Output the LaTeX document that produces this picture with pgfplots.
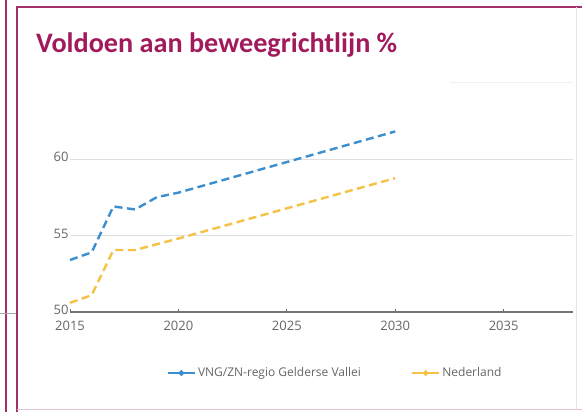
\documentclass[border=0pt]{standalone}
\usepackage{pgfplots}
\pgfplotsset{compat=1.18}
\usepackage{fontspec}
\setmainfont{Open Sans}
\newfontfamily\titlefont{Carlito}
\definecolor{framec}{HTML}{A3306A}
\definecolor{titlec}{HTML}{A11A5B}
\definecolor{blueL}{HTML}{3B8FCF}
\definecolor{goldL}{HTML}{F4C346}
\definecolor{tickc}{HTML}{666666}
\begin{document}
\begin{tikzpicture}[x=1pt,y=1pt]
\useasboundingbox (0,0) rectangle (582,412);
\fill[white] (0,0) rectangle (582,412);
% frames
\draw[framec, line width=1.5pt] (6,412) -- (6,0);
\draw[black!35, line width=0.8pt] (0,99) -- (17,99);
\draw[framec, line width=1.5pt] (17,0) -- (17,405) -- (582,405);
\draw[framec!30, line width=1.2pt] (17,2.5) -- (582,2.5);
\draw[framec!15, line width=1pt] (576,3) -- (576,405);
\draw[black!6, line width=1pt] (450,329) -- (573,329);
\node[anchor=base west, text=titlec, font=\titlefont\bfseries\fontsize{28.2}{32}\selectfont, inner sep=0pt] at (36,359) {Voldoen aan beweegrichtlijn \%};
\begin{axis}[
  at={(70pt,100pt)}, anchor=south west,
  width=503pt, height=229.5pt, scale only axis,
  xmin=2015, xmax=2038.2, ymin=50, ymax=65,
  axis x line*=bottom, axis y line*=left,
  separate axis lines,
  x axis line style={draw=black!55, line width=1.4pt},
  y axis line style={draw=none},
  xtick={2015,2020,2025,2030,2035},
  ytick={50,55,60},
  xtick style={draw=black!60, line width=0.8pt},
  ytick style={draw=none},
  major tick length=3pt,
  ymajorgrids, grid style={black!12, line width=0.6pt},
  /pgf/number format/assume math mode=true,
  /pgf/number format/1000 sep={},
  tick label style={font=\fontsize{13}{15}\selectfont, text=tickc},
  yticklabel style={xshift=2pt, yshift=2pt},
  xticklabel style={yshift=-6pt},
  clip=false,
  legend style={draw=none, fill=none, at={(0.527,-0.266)}, anchor=center,
    legend columns=2, font=\fontsize{12}{14}\selectfont, text=tickc,
    /tikz/every even column/.append style={column sep=48pt}},
  legend image code/.code={
    \draw[#1, solid] (0cm,0cm) -- (0.95cm,0cm);
    \draw[#1, solid, fill] (0.475cm,0cm) circle (1.5pt);
  },
]
\addplot[blueL, line width=2.4pt, dash pattern=on 8pt off 4.5pt] coordinates {
  (2015,53.4) (2016,53.9) (2017,56.9) (2018,56.7) (2019,57.5) (2020,57.8) (2030,61.8)
};
\addlegendentry{VNG/ZN-regio Gelderse Vallei}
\addplot[goldL, line width=2.4pt, dash pattern=on 8pt off 4.5pt] coordinates {
  (2015,50.6) (2016,51.1) (2017,54.05) (2018,54.05) (2020,54.8) (2030,58.75)
};
\addlegendentry{Nederland}
\end{axis}
\end{tikzpicture}
\end{document}
